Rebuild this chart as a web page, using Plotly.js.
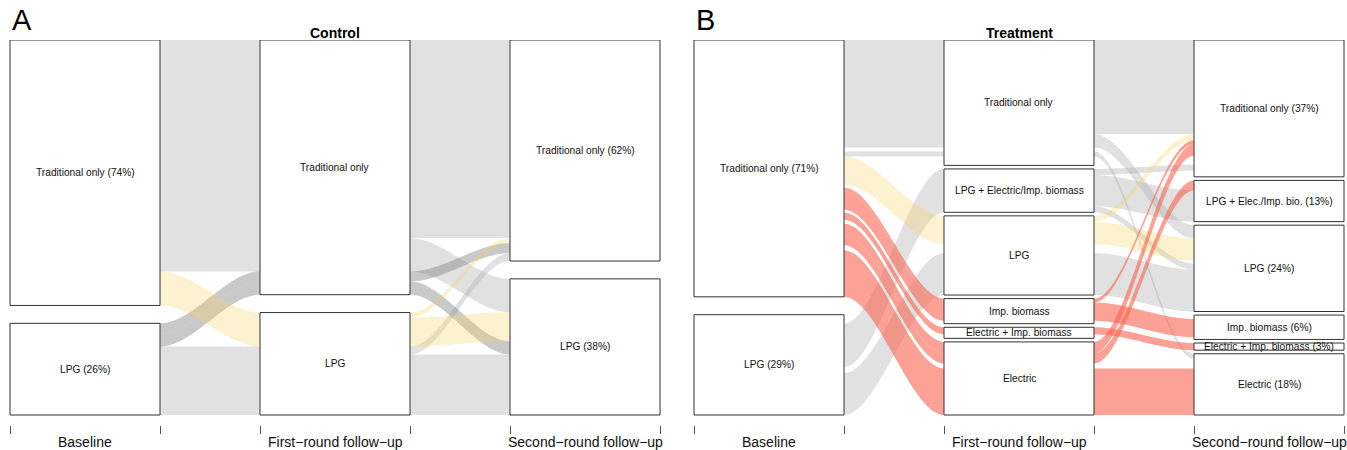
<!DOCTYPE html>
<html><head><meta charset="utf-8">
<script src="https://cdn.plot.ly/plotly-3.0.1.min.js"></script>
<style>html,body{margin:0;padding:0;background:#fff}#chart{width:1347px;height:450px}</style>
</head><body><div id="chart"></div>
<script>
// ---------------- DATA ----------------
const axisNames = ['Baseline', 'First\u2212round follow\u2212up', 'Second\u2212round follow\u2212up'];

// Panel A: Control
const ctrlCats = [
  ['Traditional only', 'LPG'],
  ['Traditional only', 'LPG'],
  ['Traditional only', 'LPG']
];
const ctrlBoxLabels = [
  ['Traditional only (74%)', 'LPG (26%)'],
  ['Traditional only', 'LPG'],
  ['Traditional only (62%)', 'LPG (38%)']
];
const ctrlBaseline = ['Traditional only','Traditional only','Traditional only','Traditional only','LPG','LPG','LPG','LPG'];
const ctrlFirst    = ['Traditional only','Traditional only','LPG','LPG','Traditional only','Traditional only','LPG','LPG'];
const ctrlSecond   = ['Traditional only','LPG','Traditional only','LPG','Traditional only','LPG','Traditional only','LPG'];
const ctrlShare    = [55.3, 9.3, 1.4, 8.1, 2.8, 3.7, 2.2, 16.9];
const ctrlGroup    = ['stay','stay','toLPG','toLPG','backTrad','backTrad','stay','stay'];

// Panel B: Treatment
const trtCats = [
  ['Traditional only', 'LPG'],
  ['Traditional only', 'LPG + Electric/Imp. biomass', 'LPG', 'Imp. biomass', 'Electric + Imp. biomass', 'Electric'],
  ['Traditional only', 'LPG + Electric/Imp. biomass', 'LPG', 'Imp. biomass', 'Electric + Imp. biomass', 'Electric']
];
const trtBoxLabels = [
  ['Traditional only (71%)', 'LPG (29%)'],
  ['Traditional only', 'LPG + Electric/Imp. biomass', 'LPG', 'Imp. biomass', 'Electric + Imp. biomass', 'Electric'],
  ['Traditional only (37%)', 'LPG + Elec./Imp. bio. (13%)', 'LPG (24%)', 'Imp. biomass (6%)', 'Electric + Imp. biomass (3%)', 'Electric (18%)']
];
const trtBaseline = [
  'Traditional only','Traditional only','Traditional only','Traditional only',
  'Traditional only','Traditional only','Traditional only',
  'Traditional only','Traditional only','Traditional only',
  'Traditional only','Traditional only',
  'Traditional only','Traditional only','Traditional only','Traditional only','Traditional only',
  'LPG','LPG','LPG','LPG','LPG','LPG'
];
const trtFirst = [
  'Traditional only','Traditional only','Traditional only','Traditional only',
  'LPG','LPG','LPG',
  'Imp. biomass','Imp. biomass','Imp. biomass',
  'Electric + Imp. biomass','Electric + Imp. biomass',
  'Electric','Electric','Electric','Electric','Electric',
  'Traditional only','LPG + Electric/Imp. biomass','LPG + Electric/Imp. biomass','LPG + Electric/Imp. biomass','LPG','LPG'
];
const trtSecond = [
  'Traditional only','LPG','Imp. biomass','Electric',
  'Traditional only','LPG','Electric',
  'Traditional only','Imp. biomass','Electric',
  'Electric + Imp. biomass','Electric',
  'Traditional only','LPG + Electric/Imp. biomass','LPG','Imp. biomass','Electric',
  'Traditional only','Traditional only','LPG + Electric/Imp. biomass','LPG','Traditional only','LPG'
];
const trtShare = [
  26.3, 3.7, 1.1, 1.4,
  1.7, 6.2, 0.8,
  1.1, 5.1, 0.8,
  2.0, 1.1,
  3.2, 2.8, 0.8, 0.6, 13.0,
  2.5, 1.7, 8.7, 1.7, 1.7, 11.7
];
const trtGroup = [
  'stay','stay','hidden','stay',
  'toLPG','toLPG','hidden',
  'toNew','toNew','hidden',
  'toNew','hidden',
  'toNew','toNew','hidden','hidden','toNew',
  'hidden','stay','stay','stay','hidden','stay'
];

// ---------------- STYLE ----------------
const groupStyle = {
  stay:     'rgba(165,165,165,0.33)',
  backTrad: 'rgba(120,120,120,0.40)',
  toLPG:    'rgba(250,212,95,0.30)',
  toNew:    'rgba(250,98,78,0.60)'
};
const drawOrder = ['stay','backTrad','toLPG','toNew'];
const HALF = 0.3;      // half box width (axis units)
const GAP_TOTAL = 0.05;
const NSEG = 40;
const FONT = 'Liberation Sans, Arial, Helvetica, sans-serif';

// ---------------- LAYOUT COMPUTATION ----------------
function computeStacks(cats, paths, shares) {
  const n = shares.length;
  const total = shares.reduce((a, b) => a + b, 0);
  const frac = shares.map(v => v / total);
  const idx = paths.map(p => p.map((c, i) => cats[i].indexOf(c)));
  const pos = [], boxes = [];
  for (let a = 0; a < 3; a++) {
    const nc = cats[a].length;
    const gap = GAP_TOTAL / (nc - 1);
    const catTot = cats[a].map((c, ci) => frac.reduce((s, v, k) => s + (idx[k][a] === ci ? v : 0), 0));
    const catTop = []; let y = 0;
    for (let ci = 0; ci < nc; ci++) { catTop.push(y); y += catTot[ci] + gap; }
    const keys = [a].concat([0, 1, 2].filter(j => j !== a));
    const order = [...Array(n).keys()].sort((p, q) => {
      for (const j of keys) if (idx[p][j] !== idx[q][j]) return idx[p][j] - idx[q][j];
      return p - q;
    });
    const cur = catTop.slice();
    pos[a] = [];
    for (const k of order) { const ci = idx[k][a]; pos[a][k] = [cur[ci], cur[ci] + frac[k]]; cur[ci] += frac[k]; }
    boxes.push(cats[a].map((c, ci) => [catTop[ci], catTop[ci] + catTot[ci]]));
  }
  return { pos, boxes };
}

function edge(vals) {
  const xs = [], ys = [];
  for (let a = 0; a < 3; a++) {
    xs.push(a + 1 - HALF); ys.push(vals[a]);
    xs.push(a + 1 + HALF); ys.push(vals[a]);
    if (a < 2) {
      for (let s = 1; s < NSEG; s++) {
        const t = s / NSEG, e = t * t * (3 - 2 * t);
        xs.push(a + 1 + HALF + t * (1 - 2 * HALF));
        ys.push(vals[a] + (vals[a + 1] - vals[a]) * e);
      }
    }
  }
  return [xs, ys];
}

function panelTraces(cats, labels, b, f, s, shares, groups, xa, ya) {
  const paths = b.map((v, i) => [v, f[i], s[i]]);
  const { pos, boxes } = computeStacks(cats, paths, shares);
  const traces = [], ann = [];
  for (const g of drawOrder) {
    for (let k = 0; k < shares.length; k++) {
      if (groups[k] !== g) continue;
      const [tx, ty] = edge([0, 1, 2].map(a => pos[a][k][0]));
      const [bx, by] = edge([0, 1, 2].map(a => pos[a][k][1]));
      traces.push({
        type: 'scatter', mode: 'none', xaxis: xa, yaxis: ya, hoverinfo: 'skip',
        x: tx.concat(bx.reverse()).concat([tx[0]]),
        y: ty.concat(by.reverse()).concat([ty[0]]),
        fill: 'toself', fillcolor: groupStyle[g]
      });
    }
  }
  for (let a = 0; a < 3; a++) {
    boxes[a].forEach(([t, bt], ci) => {
      const x0 = a + 1 - HALF, x1 = a + 1 + HALF;
      traces.push({
        type: 'scatter', mode: 'lines', xaxis: xa, yaxis: ya, hoverinfo: 'skip',
        x: [x0, x1, x1, x0, x0], y: [t, t, bt, bt, t],
        fill: 'toself', fillcolor: '#ffffff', line: { color: '#333333', width: 1 }
      });
      ann.push({
        xref: xa, yref: ya, x: a + 1, y: (t + bt) / 2, text: labels[a][ci], showarrow: false,
        font: { family: FONT, size: 10.2, color: '#111' }, xanchor: 'center', yanchor: 'middle'
      });
    });
    ann.push({
      xref: xa, yref: 'paper', x: a + 1, y: 0, yanchor: 'top', yshift: -7, text: axisNames[a],
      showarrow: false, font: { family: FONT, size: 14, color: '#111' }
    });
  }
  return { traces, ann };
}

const A = panelTraces(ctrlCats, ctrlBoxLabels, ctrlBaseline, ctrlFirst, ctrlSecond, ctrlShare, ctrlGroup, 'x', 'y');
const B = panelTraces(trtCats, trtBoxLabels, trtBaseline, trtFirst, trtSecond, trtShare, trtGroup, 'x2', 'y2');

const yTop = 1.05 * 385 / 375;
const commonX = {
  tickvals: [1 - HALF, 1 + HALF, 2 - HALF, 2 + HALF, 3 - HALF, 3 + HALF],
  ticks: 'outside', ticklen: 8, tickwidth: 1, tickcolor: '#555',
  showticklabels: false, showgrid: false, zeroline: false, showline: false, fixedrange: true
};
const commonY = { range: [yTop, 0], visible: false, fixedrange: true };

const titleAnn = [
  { xref: 'x', yref: 'paper', x: 2, y: 1, yanchor: 'bottom', yshift: -3, text: '<b>Control</b>', showarrow: false,
    font: { family: FONT, size: 14, color: '#000' } },
  { xref: 'x2', yref: 'paper', x: 2, y: 1, yanchor: 'bottom', yshift: -3, text: '<b>Treatment</b>', showarrow: false,
    font: { family: FONT, size: 14, color: '#000' } },
  { xref: 'x', yref: 'paper', x: 1 - HALF, y: 1, xanchor: 'left', yanchor: 'bottom', xshift: 0, yshift: 2, text: 'A', showarrow: false,
    font: { family: FONT, size: 29, color: '#000' } },
  { xref: 'x2', yref: 'paper', x: 1 - HALF, y: 1, xanchor: 'left', yanchor: 'bottom', xshift: 0, yshift: 2, text: 'B', showarrow: false,
    font: { family: FONT, size: 29, color: '#000' } }
];

const layout = {
  width: 1347, height: 450,
  margin: { l: 0, r: 0, t: 40, b: 25, pad: 0 },
  paper_bgcolor: '#ffffff', plot_bgcolor: '#ffffff', showlegend: false,
  xaxis: Object.assign({ domain: [0, 670 / 1347], range: [0.66, 0.66 + 670 / 250], anchor: 'y' }, commonX),
  yaxis: Object.assign({ domain: [0, 1], anchor: 'x' }, commonY),
  xaxis2: Object.assign({ domain: [684 / 1347, 1], range: [0.66, 0.66 + 663 / 250], anchor: 'y2' }, commonX),
  yaxis2: Object.assign({ domain: [0, 1], anchor: 'x2' }, commonY),
  annotations: A.ann.concat(B.ann).concat(titleAnn)
};

Plotly.newPlot('chart', A.traces.concat(B.traces), layout, { staticPlot: true, displayModeBar: false });
</script></body></html>
